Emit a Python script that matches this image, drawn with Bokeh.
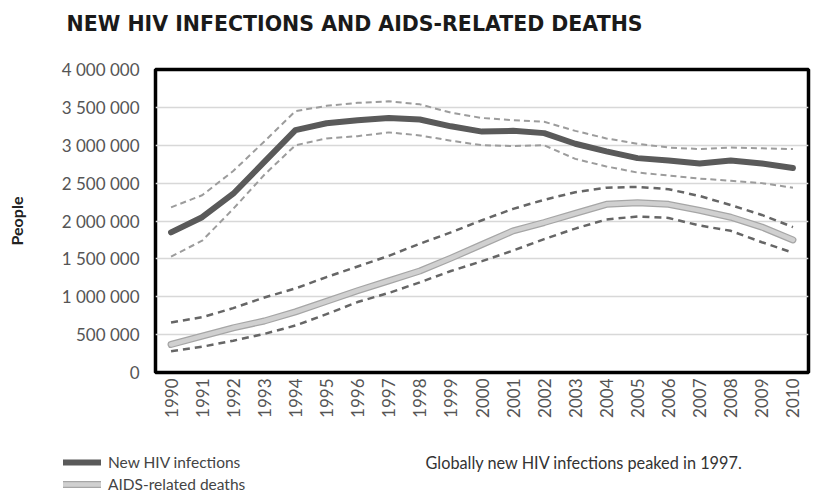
import math
from bokeh.plotting import figure
from bokeh.layouts import column
from bokeh.models import Range1d, FixedTicker, Label, Legend, LegendItem
from bokeh.embed import file_html
from bokeh.resources import INLINE

years = list(range(1990, 2011))
new_hiv = [1850000, 2050000, 2360000, 2780000, 3200000, 3290000, 3330000, 3360000, 3340000, 3250000,
           3180000, 3190000, 3160000, 3020000, 2920000, 2830000, 2800000, 2760000, 2800000, 2760000, 2700000]
new_hiv_high = [2180000, 2340000, 2660000, 3050000, 3450000, 3520000, 3560000, 3580000, 3540000, 3430000,
                3360000, 3330000, 3310000, 3190000, 3090000, 3020000, 2970000, 2950000, 2970000, 2960000, 2950000]
new_hiv_low = [1530000, 1740000, 2160000, 2610000, 3000000, 3090000, 3120000, 3170000, 3130000, 3060000,
               3000000, 2990000, 3000000, 2820000, 2720000, 2640000, 2600000, 2560000, 2530000, 2500000, 2440000]
deaths = [370000, 480000, 590000, 680000, 800000, 940000, 1080000, 1210000, 1340000, 1510000,
          1690000, 1870000, 1980000, 2100000, 2220000, 2240000, 2220000, 2140000, 2050000, 1920000, 1750000]
deaths_high = [660000, 730000, 850000, 990000, 1110000, 1260000, 1400000, 1540000, 1700000, 1850000,
               2010000, 2160000, 2280000, 2380000, 2440000, 2450000, 2420000, 2330000, 2210000, 2080000, 1920000]
deaths_low = [280000, 340000, 420000, 510000, 620000, 770000, 930000, 1050000, 1190000, 1340000,
              1470000, 1610000, 1760000, 1900000, 2020000, 2060000, 2040000, 1940000, 1870000, 1720000, 1580000]

y_tick_values = [0, 500000, 1000000, 1500000, 2000000, 2500000, 3000000, 3500000, 4000000]
y_tick_labels = ["0", "500 000", "1 000 000", "1 500 000", "2 000 000", "2 500 000",
                 "3 000 000", "3 500 000", "4 000 000"]

title_text = "NEW HIV INFECTIONS AND AIDS-RELATED DEATHS"
y_label = "People"
note_text = "Globally new HIV infections peaked in 1997."
legend_labels = ["New HIV infections", "AIDS-related deaths"]

FONT = "Lato"
W = 814

HIV_COLOR = "#5a5a5a"
HIV_BAND = "#9c9c9c"
D_EDGE = "#a6a6a6"
D_FILL = "#d0d0d0"
D_BAND = "#666666"


def bare(fig):
    fig.outline_line_color = None
    fig.background_fill_color = "white"
    fig.border_fill_color = "white"
    fig.xgrid.visible = False
    fig.ygrid.visible = False
    return fig


# ---- title strip ----
ph = bare(figure(width=W, height=50, output_backend="svg", toolbar_location=None,
                 x_axis_type=None, y_axis_type=None, min_border=0, frame_align=False,
                 x_range=Range1d(0, 1), y_range=Range1d(0, 1)))
ph.add_layout(Label(x=66, y=27, x_units="screen", y_units="screen", text=title_text,
                    text_font="DejaVu Sans", text_font_style="bold", text_font_size="20.5px",
                    text_color="#1a1a1a", text_baseline="middle", text_align="left"))

# ---- main chart ----
p = figure(width=W, height=370, output_backend="svg", toolbar_location=None,
           x_range=Range1d(1989.5, 2010.5), y_range=Range1d(0, 4000000),
           min_border_left=155, min_border_right=6, min_border_top=19, min_border_bottom=48)
p.background_fill_color = "white"
p.border_fill_color = "white"
p.outline_line_color = "black"
p.outline_line_width = 3.5

p.xgrid.grid_line_color = None
p.ygrid.grid_line_color = "#d8d8d8"
p.ygrid.grid_line_width = 1.5
p.ygrid.ticker = FixedTicker(ticks=y_tick_values)

p.yaxis.ticker = FixedTicker(ticks=y_tick_values)
p.yaxis.major_label_overrides = {v: l for v, l in zip(y_tick_values, y_tick_labels)}
p.xaxis.ticker = FixedTicker(ticks=years)
p.xaxis.major_label_orientation = math.pi / 2
for ax in (p.xaxis, p.yaxis):
    ax.axis_line_color = None
    ax.major_tick_line_color = None
    ax.minor_tick_line_color = None
    ax.major_tick_out = 0
    ax.major_tick_in = 0
    ax.minor_tick_out = 0
    ax.major_label_text_font = FONT
    ax.major_label_text_color = "#555555"
    ax.major_label_text_font_size = "17px"
p.yaxis.major_label_standoff = 16
p.xaxis.major_label_standoff = 6
p.yaxis.axis_label = y_label
p.yaxis.axis_label_text_font = FONT
p.yaxis.axis_label_text_font_style = "bold"
p.yaxis.axis_label_text_font_size = "16px"
p.yaxis.axis_label_text_color = "#222222"
p.yaxis.axis_label_standoff = 33

p.line(years, new_hiv_high, line_color=HIV_BAND, line_width=2, line_dash="6 4")
p.line(years, new_hiv_low, line_color=HIV_BAND, line_width=2, line_dash="6 4")
p.line(years, deaths_high, line_color=D_BAND, line_width=2.5, line_dash="7 5")
p.line(years, deaths_low, line_color=D_BAND, line_width=2.5, line_dash="7 5")

p.line(years, new_hiv, line_color=HIV_COLOR, line_width=6, line_cap="round", line_join="round")
p.line(years, deaths, line_color=D_EDGE, line_width=7, line_cap="round", line_join="round")
p.line(years, deaths, line_color=D_FILL, line_width=4.5, line_cap="round", line_join="round")

# ---- footer: legend and note ----
pf = bare(figure(width=W, height=74, output_backend="svg", toolbar_location=None,
                 x_axis_type=None, y_axis_type=None, min_border=0, frame_align=False,
                 x_range=Range1d(0, 1), y_range=Range1d(10, 11)))
# same series, outside this strip's view: they only feed the legend swatches
k_hiv = pf.line(years, new_hiv, line_color=HIV_COLOR, line_width=6, line_cap="round")
k_d1 = pf.line(years, deaths, line_color=D_EDGE, line_width=7, line_cap="round")
k_d2 = pf.line(years, deaths, line_color=D_FILL, line_width=4.5, line_cap="round")
legend = Legend(items=[LegendItem(label=legend_labels[0], renderers=[k_hiv]),
                       LegendItem(label=legend_labels[1], renderers=[k_d1, k_d2])],
                location=(63, 1), orientation="vertical",
                glyph_width=38, glyph_height=10, label_height=18, label_width=10,
                spacing=4, padding=0, margin=0,
                label_text_font=FONT, label_text_font_size="15.5px", label_text_color="#444444",
                label_standoff=7,
                border_line_color=None, background_fill_alpha=0)
pf.add_layout(legend, "center")
pf.add_layout(Label(x=425, y=32, x_units="screen", y_units="screen", text=note_text,
                    text_font=FONT, text_font_size="16.3px", text_color="#333333",
                    text_baseline="middle", text_align="left"))

layout = column(ph, p, pf, spacing=0)
open("out.html", "w").write(file_html(layout, INLINE))
